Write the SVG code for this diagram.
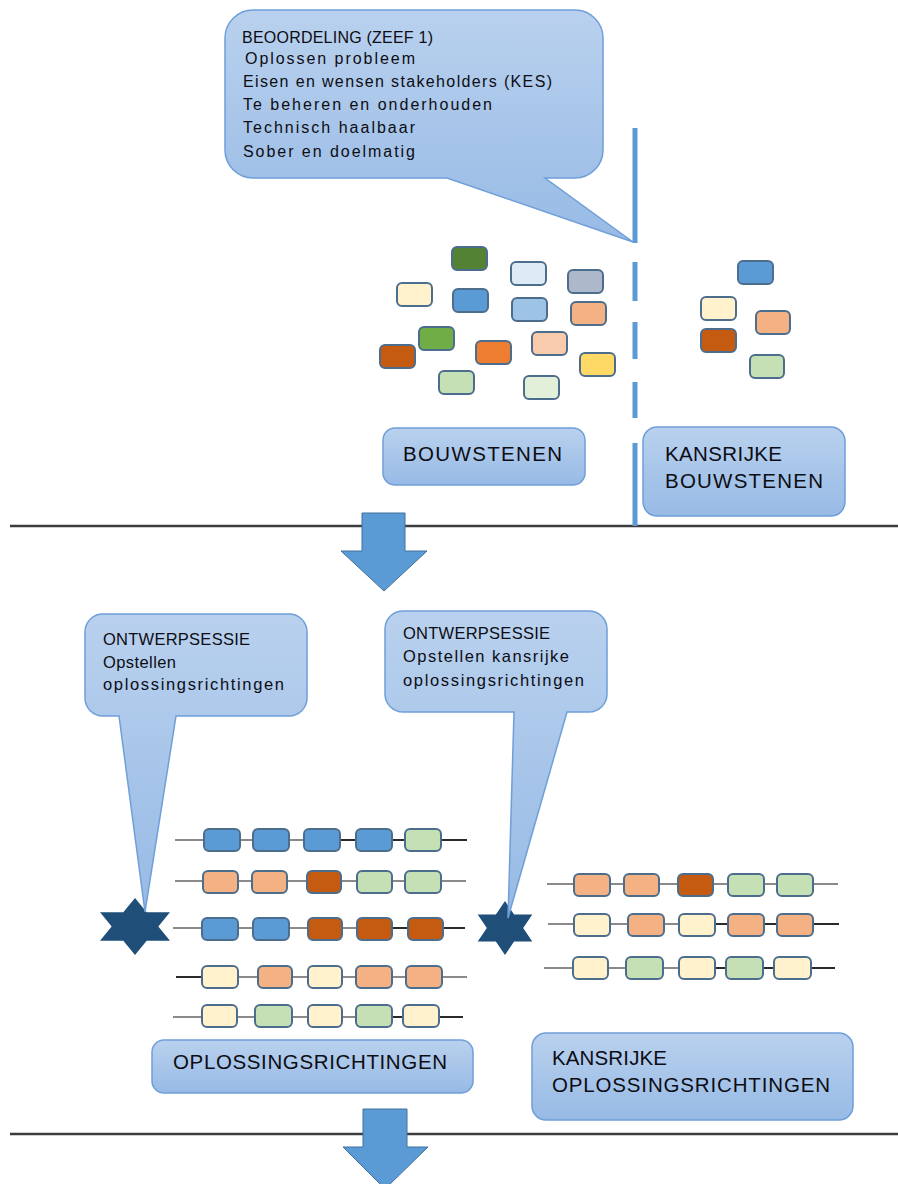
<svg xmlns="http://www.w3.org/2000/svg" width="898" height="1184" viewBox="0 0 898 1184">
  <defs>
    <linearGradient id="callFill" x1="0" y1="0" x2="0" y2="1">
      <stop offset="0" stop-color="#b9d1ee"/>
      <stop offset="1" stop-color="#97bae5"/>
    </linearGradient>
    <!-- unit six-pointed star, outer radius 1 -->
    <path id="hexagram" d="M0,-1 L0.289,-0.5 L0.866,-0.5 L0.577,0 L0.866,0.5 L0.289,0.5 L0,1 L-0.289,0.5 L-0.866,0.5 L-0.577,0 L-0.866,-0.5 L-0.289,-0.5 Z"/>
    <style>
      .bubble { fill: url(#callFill); stroke: #6f9fd8; stroke-width: 1.5; }
      .label { fill: url(#callFill); stroke: #6f9fd8; stroke-width: 1.5; }
      .txt { font-family: "Liberation Sans", Arial, sans-serif; fill: #0d0d14; }
      .small { font-size: 16px; }
      .mid { font-size: 16.5px; }
      .big { font-size: 20.5px; }
      .blk { stroke: #4d6d8d; stroke-width: 2; }
      .chain { fill: none; stroke: #8a8a8a; stroke-width: 2; }
      .chainDark { fill: none; stroke: #2a2a2a; stroke-width: 2; }
      .sep { stroke: #3c3c3c; stroke-width: 2.5; }
      .divider { stroke: #5b9bd5; stroke-width: 5; }
      .flow { fill: #5b9bd5; stroke: #41719c; stroke-width: 1; }
      .star { fill: #1f4e79; }
      .c-blue { fill: #5b9bd5; }
      .c-dgreen { fill: #548235; }
      .c-pale { fill: #deebf7; }
      .c-slate { fill: #adb9ca; }
      .c-cream { fill: #fff2cc; }
      .c-lblue { fill: #9dc3e6; }
      .c-peach { fill: #f4b183; }
      .c-green { fill: #70ad47; }
      .c-rust { fill: #c55a11; }
      .c-orange { fill: #ed7d31; }
      .c-lpeach { fill: #f8cbad; }
      .c-yellow { fill: #ffd966; }
      .c-lgreen { fill: #c5e0b4; }
      .c-vlgreen { fill: #e2f0d9; }
    </style>
  </defs>

  <rect width="898" height="1184" fill="#ffffff"/>

  <!-- section separators and flow arrows -->
  <g id="connectors">
    <line class="sep" x1="10" y1="526" x2="898" y2="526"/>
    <line class="sep" x1="10" y1="1134" x2="898" y2="1134"/>
    <path class="divider" d="M635,128 V243 M635,262 V301 M635,322 V359 M635,382 V418 M635,443 V526"/>
    <polygon class="flow" points="362,513 405,513 405,551 427,551 384,591 341,551 362,551"/>
    <polygon class="flow" points="363,1109 407,1109 407,1147 428,1147 385,1189 343,1147 363,1147"/>
  </g>

  <!-- assessment callout -->
  <g id="callout-beoordeling">
    <path class="bubble" d="M253,10 H575 A28,28 0 0 1 603,38 V150 A28,28 0 0 1 575,178 H545 L633,242 L447,178 H253 A28,28 0 0 1 225,150 V38 A28,28 0 0 1 253,10 Z"/>
    <text class="txt small" x="242" y="43" textLength="191" lengthAdjust="spacing">BEOORDELING (ZEEF 1)</text>
    <text class="txt small" x="245" y="64" textLength="170" lengthAdjust="spacing">Oplossen probleem</text>
    <text class="txt small" x="243" y="87" textLength="309" lengthAdjust="spacing">Eisen en wensen stakeholders (KES)</text>
    <text class="txt small" x="243" y="110" textLength="249" lengthAdjust="spacing">Te beheren en onderhouden</text>
    <text class="txt small" x="243" y="133" textLength="172" lengthAdjust="spacing">Technisch haalbaar</text>
    <text class="txt small" x="243" y="157" textLength="172" lengthAdjust="spacing">Sober en doelmatig</text>
  </g>

  <!-- all building blocks -->
  <g id="bouwstenen-blocks">
    <rect class="blk c-dgreen" x="452" y="247" width="35" height="23" rx="5"/>
    <rect class="blk c-pale" x="511" y="262" width="35" height="23" rx="5"/>
    <rect class="blk c-slate" x="568" y="270" width="35" height="23" rx="5"/>
    <rect class="blk c-cream" x="397" y="283" width="35" height="23" rx="5"/>
    <rect class="blk c-blue" x="453" y="289" width="35" height="23" rx="5"/>
    <rect class="blk c-lblue" x="512" y="298" width="35" height="23" rx="5"/>
    <rect class="blk c-peach" x="571" y="302" width="35" height="23" rx="5"/>
    <rect class="blk c-green" x="419" y="327" width="35" height="23" rx="5"/>
    <rect class="blk c-rust" x="380" y="345" width="35" height="23" rx="5"/>
    <rect class="blk c-orange" x="476" y="341" width="35" height="23" rx="5"/>
    <rect class="blk c-lpeach" x="532" y="332" width="35" height="23" rx="5"/>
    <rect class="blk c-yellow" x="580" y="353" width="35" height="23" rx="5"/>
    <rect class="blk c-lgreen" x="439" y="371" width="35" height="23" rx="5"/>
    <rect class="blk c-vlgreen" x="524" y="376" width="35" height="23" rx="5"/>
  </g>

  <!-- promising building blocks -->
  <g id="kansrijke-blocks">
    <rect class="blk c-blue" x="738" y="261" width="35" height="23" rx="5"/>
    <rect class="blk c-cream" x="701" y="297" width="35" height="23" rx="5"/>
    <rect class="blk c-peach" x="756" y="311" width="34" height="23" rx="5"/>
    <rect class="blk c-rust" x="701" y="329" width="35" height="23" rx="5"/>
    <rect class="blk c-lgreen" x="750" y="355" width="34" height="23" rx="5"/>
  </g>

  <g id="label-bouwstenen">
    <rect class="label" x="383" y="428" width="202" height="57" rx="12"/>
    <text class="txt big" x="403" y="461" textLength="159" lengthAdjust="spacing">BOUWSTENEN</text>
  </g>

  <g id="label-kansrijke-bouwstenen">
    <rect class="label" x="643" y="427" width="202" height="89" rx="14"/>
    <text class="txt big" x="665" y="461" textLength="117" lengthAdjust="spacing">KANSRIJKE</text>
    <text class="txt big" x="665" y="488" textLength="158" lengthAdjust="spacing">BOUWSTENEN</text>
  </g>

  <!-- solution chains, left -->
  <g id="oplossingsrichtingen-chains">
    <path class="chain" d="M175,840 H467 M175,881 H466 M173,928 H465 M176,977 H467 M173,1017 H463"/>
    <path class="chainDark" d="M341,840 H355 M392,840 H404 M442,840 H467 M392,928 H407 M443,928 H465 M176,977 H201 M392,1017 H402 M439,1017 H463"/>
    <rect class="blk c-blue" x="204" y="829" width="36" height="22" rx="5"/>
    <rect class="blk c-blue" x="253" y="829" width="36" height="22" rx="5"/>
    <rect class="blk c-blue" x="304" y="829" width="36" height="22" rx="5"/>
    <rect class="blk c-blue" x="356" y="829" width="36" height="22" rx="5"/>
    <rect class="blk c-lgreen" x="405" y="829" width="36" height="22" rx="5"/>

    <rect class="blk c-peach" x="203" y="871" width="35" height="22" rx="5"/>
    <rect class="blk c-peach" x="252" y="871" width="35" height="22" rx="5"/>
    <rect class="blk c-rust" x="307" y="871" width="34" height="22" rx="5"/>
    <rect class="blk c-lgreen" x="357" y="871" width="35" height="22" rx="5"/>
    <rect class="blk c-lgreen" x="405" y="871" width="36" height="22" rx="5"/>

    <rect class="blk c-blue" x="202" y="918" width="36" height="22" rx="5"/>
    <rect class="blk c-blue" x="253" y="918" width="36" height="22" rx="5"/>
    <rect class="blk c-rust" x="308" y="918" width="34" height="22" rx="5"/>
    <rect class="blk c-rust" x="357" y="918" width="35" height="22" rx="5"/>
    <rect class="blk c-rust" x="408" y="918" width="35" height="22" rx="5"/>

    <rect class="blk c-cream" x="202" y="966" width="36" height="22" rx="5"/>
    <rect class="blk c-peach" x="258" y="966" width="34" height="22" rx="5"/>
    <rect class="blk c-cream" x="308" y="966" width="34" height="22" rx="5"/>
    <rect class="blk c-peach" x="356" y="966" width="36" height="22" rx="5"/>
    <rect class="blk c-peach" x="406" y="966" width="36" height="22" rx="5"/>

    <rect class="blk c-cream" x="202" y="1005" width="35" height="22" rx="5"/>
    <rect class="blk c-lgreen" x="255" y="1005" width="37" height="22" rx="5"/>
    <rect class="blk c-cream" x="308" y="1005" width="34" height="22" rx="5"/>
    <rect class="blk c-lgreen" x="356" y="1005" width="36" height="22" rx="5"/>
    <rect class="blk c-cream" x="403" y="1005" width="36" height="22" rx="5"/>
  </g>

  <!-- solution chains, right -->
  <g id="kansrijke-chains">
    <path class="chain" d="M547,884 H838 M548,924 H839 M544,968 H835"/>
    <path class="chainDark" d="M715,924 H727 M764,924 H776 M813,924 H839 M715,968 H725 M763,968 H773 M811,968 H835"/>
    <rect class="blk c-peach" x="574" y="874" width="36" height="22" rx="5"/>
    <rect class="blk c-peach" x="624" y="874" width="35" height="22" rx="5"/>
    <rect class="blk c-rust" x="678" y="874" width="35" height="22" rx="5"/>
    <rect class="blk c-lgreen" x="728" y="874" width="36" height="22" rx="5"/>
    <rect class="blk c-lgreen" x="777" y="874" width="36" height="22" rx="5"/>

    <rect class="blk c-cream" x="574" y="914" width="36" height="22" rx="5"/>
    <rect class="blk c-peach" x="628" y="914" width="36" height="22" rx="5"/>
    <rect class="blk c-cream" x="679" y="914" width="36" height="22" rx="5"/>
    <rect class="blk c-peach" x="728" y="914" width="36" height="22" rx="5"/>
    <rect class="blk c-peach" x="777" y="914" width="36" height="22" rx="5"/>

    <rect class="blk c-cream" x="573" y="957" width="35" height="22" rx="5"/>
    <rect class="blk c-lgreen" x="626" y="957" width="37" height="22" rx="5"/>
    <rect class="blk c-cream" x="679" y="957" width="36" height="22" rx="5"/>
    <rect class="blk c-lgreen" x="726" y="957" width="37" height="22" rx="5"/>
    <rect class="blk c-cream" x="774" y="957" width="37" height="22" rx="5"/>
  </g>

  <!-- design session markers -->
  <g id="star-left">
    <use href="#hexagram" class="star" transform="translate(135,926.5) scale(40.4,28.5)"/>
  </g>
  <g id="star-right">
    <use href="#hexagram" class="star" transform="translate(505,928) scale(31.5,27)"/>
  </g>

  <g id="callout-ontwerpsessie-1">
    <path class="bubble" d="M103,614 H289 A18,18 0 0 1 307,632 V698 A18,18 0 0 1 289,716 H176 L145,912 L119,716 H103 A18,18 0 0 1 85,698 V632 A18,18 0 0 1 103,614 Z"/>
    <text class="txt mid" x="103" y="645" textLength="147" lengthAdjust="spacing">ONTWERPSESSIE</text>
    <text class="txt mid" x="103" y="668" textLength="73" lengthAdjust="spacing">Opstellen</text>
    <text class="txt mid" x="103" y="690" textLength="181" lengthAdjust="spacing">oplossingsrichtingen</text>
  </g>

  <g id="callout-ontwerpsessie-2">
    <path class="bubble" d="M403,611 H589 A18,18 0 0 1 607,629 V694 A18,18 0 0 1 589,712 H567 L508,918 L514,712 H403 A18,18 0 0 1 385,694 V629 A18,18 0 0 1 403,611 Z"/>
    <text class="txt mid" x="403" y="639" textLength="147" lengthAdjust="spacing">ONTWERPSESSIE</text>
    <text class="txt mid" x="403" y="662" textLength="166" lengthAdjust="spacing">Opstellen kansrijke</text>
    <text class="txt mid" x="403" y="686" textLength="181" lengthAdjust="spacing">oplossingsrichtingen</text>
  </g>

  <g id="label-oplossingsrichtingen">
    <rect class="label" x="152" y="1040" width="321" height="53" rx="12"/>
    <text class="txt big" x="173" y="1069" textLength="274" lengthAdjust="spacing">OPLOSSINGSRICHTINGEN</text>
  </g>

  <g id="label-kansrijke-oplossingsrichtingen">
    <rect class="label" x="532" y="1033" width="321" height="87" rx="14"/>
    <text class="txt big" x="552" y="1065" textLength="115" lengthAdjust="spacing">KANSRIJKE</text>
    <text class="txt big" x="552" y="1092" textLength="278" lengthAdjust="spacing">OPLOSSINGSRICHTINGEN</text>
  </g>
</svg>
